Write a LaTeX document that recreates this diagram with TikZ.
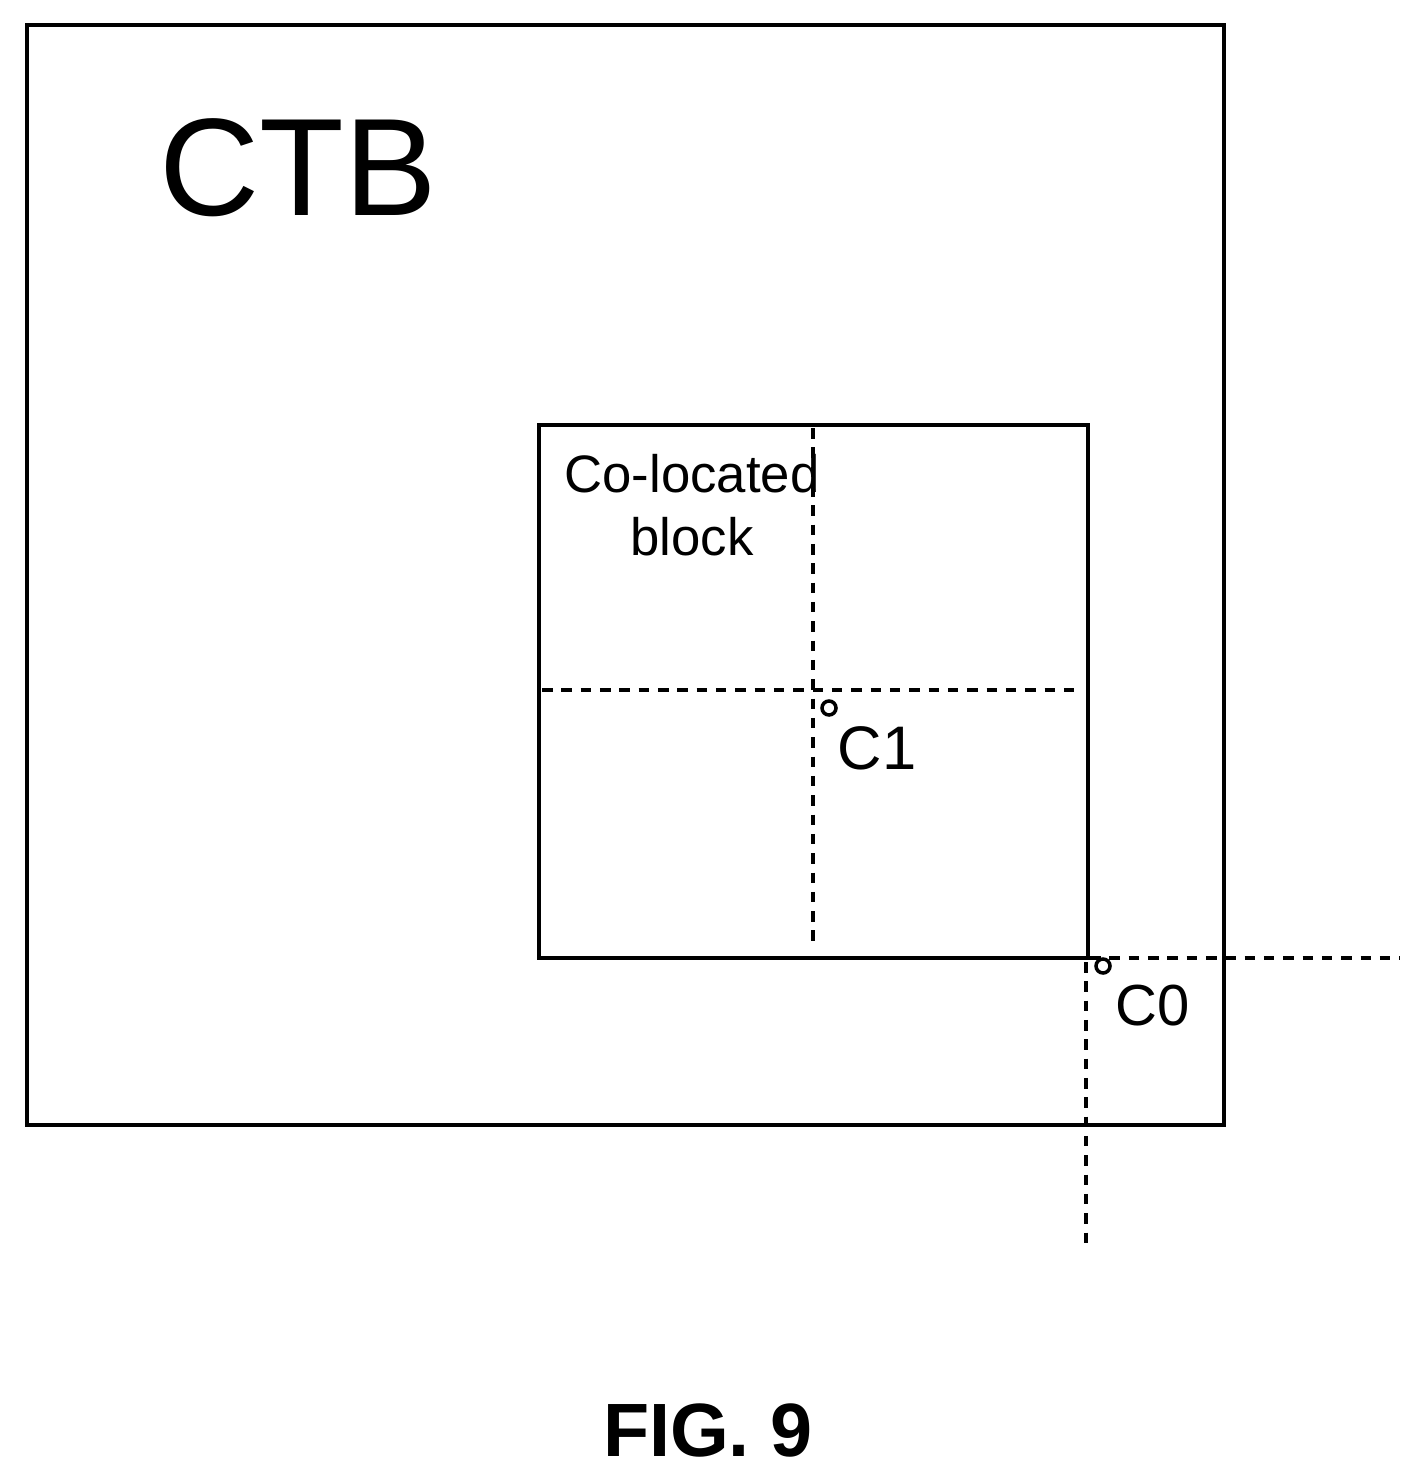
\documentclass[tikz,border=0pt]{standalone}
\usepackage{fontspec}
\setmainfont{Liberation Sans}
\begin{document}
\begin{tikzpicture}[x=0.02cm,y=-0.02cm,
  solid box/.style={line width=2.8pt},
  dline/.style={line width=2.6pt,dash pattern=on 6pt off 5pt},
  pt/.style={circle,draw,line width=2pt,inner sep=0pt,minimum size=0.28cm},
  lbl/.style={inner sep=0pt,align=center}]
\useasboundingbox (0,0) rectangle (1420,1480);
\draw[solid box] (27,25) rectangle (1224,1125);
\draw[solid box] (539,425) rectangle (1088,958);
\draw[dline] (813,428) -- (813,945);
\draw[dline] (542,690) -- (1078,690);
\draw[dline] (1090,958) -- (1400,958);
\draw[dline] (1086,962) -- (1086,1250);
\node[pt,fill=white] (c1) at (829,708) {};
\node[pt,fill=white] (c0) at (1103,966) {};
\node[lbl,font=\fontsize{79}{90}\selectfont] (ctb) at (298,168) {CTB};
\node[lbl,font=\fontsize{30}{36}\selectfont] (col) at (692,505) {Co-located\\block};
\node[lbl,font=\fontsize{35}{40}\selectfont] (t1) at (877,748) {C1};
\node[lbl,font=\fontsize{33}{40}\selectfont] (t0) at (1153,1006) {C0};
\node[lbl,font=\bfseries\fontsize{43}{50}\selectfont] (fig) at (708,1430) {FIG. 9};
\end{tikzpicture}
\end{document}
